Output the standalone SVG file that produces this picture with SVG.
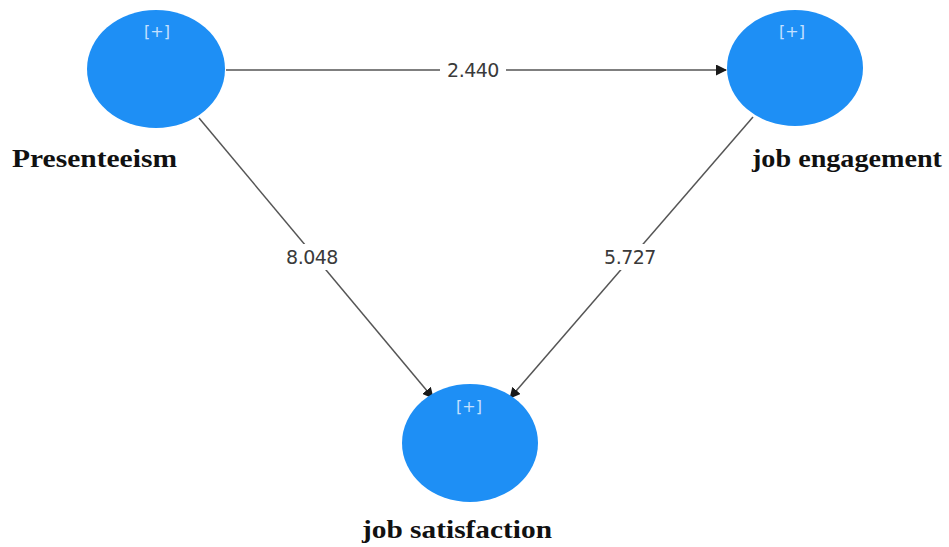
<svg xmlns="http://www.w3.org/2000/svg" width="949" height="547" viewBox="0 0 949 547">
<defs>
<marker id="arr" markerWidth="11" markerHeight="11" refX="10" refY="5.5" orient="auto" markerUnits="userSpaceOnUse">
<path d="M0,0 L11,5.5 L0,11 Z" fill="#1a1a1a"/>
</marker>
<style>
.node{fill:#1e8ff5;}
.plus{font-family:"DejaVu Sans",sans-serif;font-size:16px;fill:#c4e0ff;text-anchor:middle;}
.lbl{font-family:"Liberation Serif",serif;font-weight:bold;font-size:26px;fill:#111;}
.edge{stroke:#555;stroke-width:1.5;fill:none;}
.w{font-family:"DejaVu Sans",sans-serif;font-size:19px;fill:#3a3a3a;text-anchor:middle;letter-spacing:-0.5px;}
.bg{fill:#fff;}
</style>
</defs>
<rect width="949" height="547" fill="#fff"/>
<g id="connectors">
<line class="edge" x1="226" y1="70" x2="726" y2="70" marker-end="url(#arr)"/>
<rect class="bg" x="440" y="58" width="66" height="24"/>
<text class="w" x="473" y="77">2.440</text>
<line class="edge" x1="199" y1="118" x2="433" y2="398" marker-end="url(#arr)"/>
<rect class="bg" x="280" y="244" width="64" height="26"/>
<text class="w" x="312" y="264">8.048</text>
<line class="edge" x1="753" y1="117" x2="510" y2="398" marker-end="url(#arr)"/>
<rect class="bg" x="598" y="244" width="64" height="26"/>
<text class="w" x="630" y="264">5.727</text>
</g>
<g id="presenteeism">
<ellipse class="node" cx="156" cy="69" rx="69" ry="59"/>
<text class="plus" x="157" y="37">[+]</text>
<text class="lbl" x="12" y="167" textLength="165" lengthAdjust="spacingAndGlyphs">Presenteeism</text>
</g>
<g id="job-engagement">
<ellipse class="node" cx="795" cy="68" rx="68" ry="58"/>
<text class="plus" x="792" y="37">[+]</text>
<text class="lbl" x="752" y="167" textLength="190" lengthAdjust="spacingAndGlyphs">job engagement</text>
</g>
<g id="job-satisfaction">
<ellipse class="node" cx="470" cy="443" rx="68" ry="59"/>
<text class="plus" x="469" y="412">[+]</text>
<text class="lbl" x="362" y="538" textLength="190" lengthAdjust="spacingAndGlyphs">job satisfaction</text>
</g>
</svg>
